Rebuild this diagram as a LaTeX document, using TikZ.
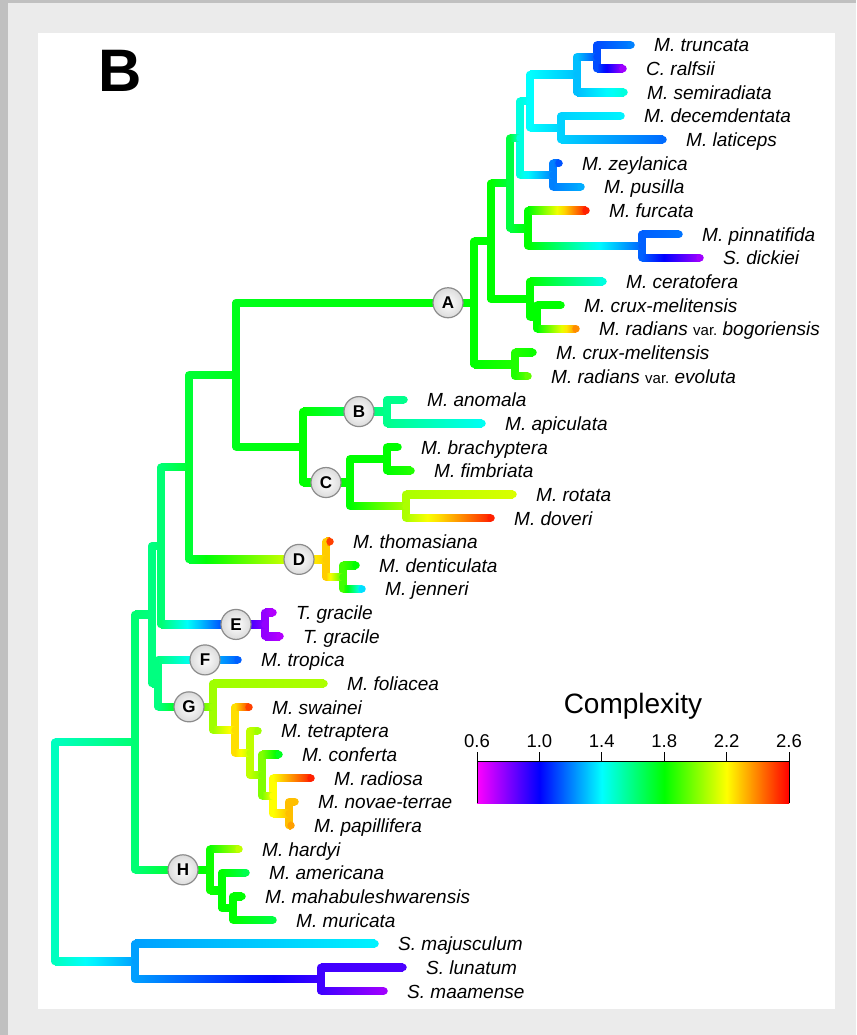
\documentclass[tikz,border=0pt]{standalone}
\usepackage{fontspec}
\setmainfont{Liberation Sans}
\usepackage{tikz}
\usetikzlibrary{positioning,calc}
\definecolor{frameout}{RGB}{192,192,192}
\definecolor{framein}{RGB}{235,235,235}
\definecolor{ring}{RGB}{140,140,140}
\pgfdeclarehorizontalshading{keybar}{100bp}{rgb(0bp)=(1,0,1); rgb(25bp)=(1,0,1);
  rgb(35bp)=(0,0,1); rgb(45bp)=(0,1,1); rgb(55bp)=(0,1,0); rgb(65bp)=(1,1,0);
  rgb(75bp)=(1,0,0); rgb(100bp)=(1,0,0)}

% complexity 0.6 .. 2.6 -> magenta .. red
\newcommand{\cmplx}[2]{%
  \pgfmathsetmacro\hue{max(0,min(300,(2.6-#2)*150))/360}%
  \xglobal\definecolor{#1}{hsb}{\hue,1,1}}
\newcommand{\tvar}{{\upshape\fontsize{15}{15}\selectfont var.}}
% one branch: vertical at the parent, shaded horizontal to the child
\newcounter{brno}
\newcommand{\branch}[2]{%
  \edef\va{\csname v#1\endcsname}\edef\vb{\csname v#2\endcsname}%
  \cmplx{vc}{\va}\draw[vline,vc] (#1) -- (#1|-#2);
  \stepcounter{brno}%
  \foreach \k in {0,...,8}{%
    \pgfmathsetmacro\vv{\va+(\vb-\va)*\k/8}\cmplx{brc\thebrno x\k}{\vv}%
    \pgfmathsetmacro\pos{25+6.25*\k}%
    \ifnum\k=0 \xdef\spec{color(0bp)=(brc\thebrno x0); color(25bp)=(brc\thebrno x0)}%
    \else \xdef\spec{\spec; color(\pos bp)=(brc\thebrno x\k)}\fi}%
  \xdef\spec{\spec; color(100bp)=(brc\thebrno x8)}%
  \edef\mkshade{\noexpand\pgfdeclarehorizontalshading{brs\thebrno}{100bp}{\spec}}\mkshade
  \shade[shading=brs\thebrno] ($(#1|-#2)+(0,-3.75)$) rectangle ($(#2)+(0,3.75)$);
  \cmplx{vc}{\vb}\fill[vc] (#2) circle (3.75pt);}

\begin{document}
\begin{tikzpicture}[x=1pt,y=-1pt,
  vline/.style={line width=7.5pt,line cap=round},
  leaf/.style={inner sep=0pt,font=\fontsize{19}{19}\selectfont\itshape},
  clade/.style={circle,draw=ring,line width=1.2pt,inner color=white,outer color=gray!28,
    minimum size=30pt,inner sep=0pt,font=\fontsize{17}{17}\selectfont\bfseries}]
 \useasboundingbox (0,0) rectangle (856,1035);
 \fill[frameout] (0,0) rectangle (856,1035);
 \fill[framein] (8,3) rectangle (856,1035);
 \fill[white] (38,33) rectangle (835,1009);
 \node[anchor=base,inner sep=0pt,font=\fontsize{60}{60}\selectfont\bfseries] (panel) at (120.5,92) {B};
 % tips: x / complexity / name
 \foreach \tx/\v/\name [count=\i from 0] in {
   631/1.2/{M. truncata}, 623/0.75/{C. ralfsii}, 624/1.45/{M. semiradiata},
   621/1.38/{M. decemdentata}, 663/1.17/{M. laticeps}, 559/1.13/{M. zeylanica},
   581/1.27/{M. pusilla}, 586/2.55/{M. furcata}, 679/1.18/{M. pinnatifida},
   700/0.75/{S. dickiei}, 603/1.45/{M. ceratofera}, 561/1.8/{M. crux-melitensis},
   576/2.38/{M. radians \tvar\ bogoriensis}, 533/1.82/{M. crux-melitensis},
   528/1.95/{M. radians \tvar\ evoluta}, 404/1.58/{M. anomala}, 482/1.42/{M. apiculata},
   398/1.8/{M. brachyptera}, 411/1.85/{M. fimbriata}, 513/2.14/{M. rotata},
   491/2.55/{M. doveri}, 330/2.5/{M. thomasiana}, 356/1.8/{M. denticulata},
   362/1.35/{M. jenneri}, 273/0.72/{T. gracile}, 280/0.72/{T. gracile},
   238/1.15/{M. tropica}, 324/2.07/{M. foliacea}, 249/2.5/{M. swainei},
   258/2.05/{M. tetraptera}, 279/1.75/{M. conferta}, 311/2.55/{M. radiosa},
   295/2.3/{M. novae-terrae}, 291/2.35/{M. papillifera}, 239/2.1/{M. hardyi},
   246/1.68/{M. americana}, 242/1.8/{M. mahabuleshwarensis}, 273/1.7/{M. muricata},
   375/1.38/{S. majusculum}, 403/0.88/{S. lunatum}, 384/0.75/{S. maamense}}{
   \coordinate (t\i) at (\tx,45+23.65*\i);
   \expandafter\xdef\csname vt\i\endcsname{\v}
   \node[leaf,base right=23pt of t\i,yshift=-7pt] (l\i) {\name};
 }
 % inner nodes: name / x / y / complexity
 \foreach \n/\x/\y/\v in {n01/597/56.83/1.12, n012/577/74.56/1.3, n34/561/127.78/1.33,
   nQ/530/101.17/1.4, n56/553/175.08/1.2, nR/520/138.12/1.45, n89/642/246.03/1.15,
   nF/528/228.29/1.8, nS/510/183.21/1.7, n1112/537/316.98/1.8, n1012/530/299.24/1.8,
   nT/491/241.23/1.8, n1314/515/364.28/1.85, nA/474/302.75/1.8, nB/387/411.58/1.58,
   n1718/387/458.88/1.8, n1920/406/506.18/2.07, nC/350/482.53/1.8, nBC/303/447.05/1.8,
   nAC/236/374.9/1.76, n2223/343/577.13/1.9, nD/326/559.39/2.28, nAD/189/467.15/1.72,
   nE/265/624.43/0.77, nAE/161/545.79/1.62, n3233/289/813.63/2.3, n31/273/795.89/2.2,
   n30/262/775.2/2.0, n29/250/753.03/2.1, n28/235/730.12/2.25, nG/213/706.84/2.05,
   nFG/158/683.37/1.6, nAG/152/614.58/1.6, n3637/233/908.23/1.8, n35/222/890.49/1.8,
   nH/210/869.8/1.82, nAH/135/742.19/1.62, n3940/321/979.18/0.9, nSp/135/961.44/1.25,
   root/55/851.8/1.5}{
   \coordinate (\n) at (\x,\y);
   \expandafter\xdef\csname v\n\endcsname{\v}
 }
 % branches
 \foreach \p/\c in {n01/t0, n01/t1, n012/n01, n012/t2, n34/t3, n34/t4, nQ/n012, nQ/n34,
   n56/t5, n56/t6, nR/nQ, nR/n56, n89/t8, n89/t9, nF/t7, nF/n89, nS/nR, nS/nF,
   n1112/t11, n1112/t12, n1012/t10, n1012/n1112, nT/nS, nT/n1012, n1314/t13, n1314/t14,
   nA/nT, nA/n1314, nB/t15, nB/t16, n1718/t17, n1718/t18, n1920/t19, n1920/t20,
   nC/n1718, nC/n1920, nBC/nB, nBC/nC, nAC/nA, nAC/nBC, n2223/t22, n2223/t23,
   nD/t21, nD/n2223, nAD/nAC, nAD/nD, nE/t24, nE/t25, nAE/nAD, nAE/nE,
   n3233/t32, n3233/t33, n31/t31, n31/n3233, n30/t30, n30/n31, n29/t29, n29/n30,
   n28/t28, n28/n29, nG/t27, nG/n28, nFG/t26, nFG/nG, nAG/nAE, nAG/nFG,
   n3637/t36, n3637/t37, n35/t35, n35/n3637, nH/t34, nH/n35, nAH/nAG, nAH/nH,
   n3940/t39, n3940/t40, nSp/t38, nSp/n3940, root/nAH, root/nSp}{\branch{\p}{\c}}
 % clade marks
 \node[clade] (kA) at (448,302.75) {A};
 \node[clade] (kB) at (359,411.58) {B};
 \node[clade] (kC) at (326,482.53) {C};
 \node[clade] (kD) at (299,559.39) {D};
 \node[clade] (kE) at (236,624.43) {E};
 \node[clade] (kF) at (205,659.9) {F};
 \node[clade] (kG) at (189,706.84) {G};
 \node[clade] (kH) at (183,869.8) {H};
 % colour key
 \node[anchor=base,inner sep=0pt,font=\fontsize{28}{28}\selectfont] (key) at (633,713) {Complexity};
 \shade[shading=keybar] (477,761) rectangle (789,803);
 \draw[line width=.8pt] (477,803) -- (477,761) -- (789,761) -- (789,803);
 \foreach \t [count=\j from 0] in {0.6,1.0,1.4,1.8,2.2,2.6}{
   \draw[line width=.8pt] (477+62.4*\j,761) -- (477+62.4*\j,752);
   \node[anchor=base,inner sep=0pt,font=\fontsize{18.5}{18.5}\selectfont] (tk\j) at (477+62.4*\j,747) {\t};
 }
\end{tikzpicture}
\end{document}
